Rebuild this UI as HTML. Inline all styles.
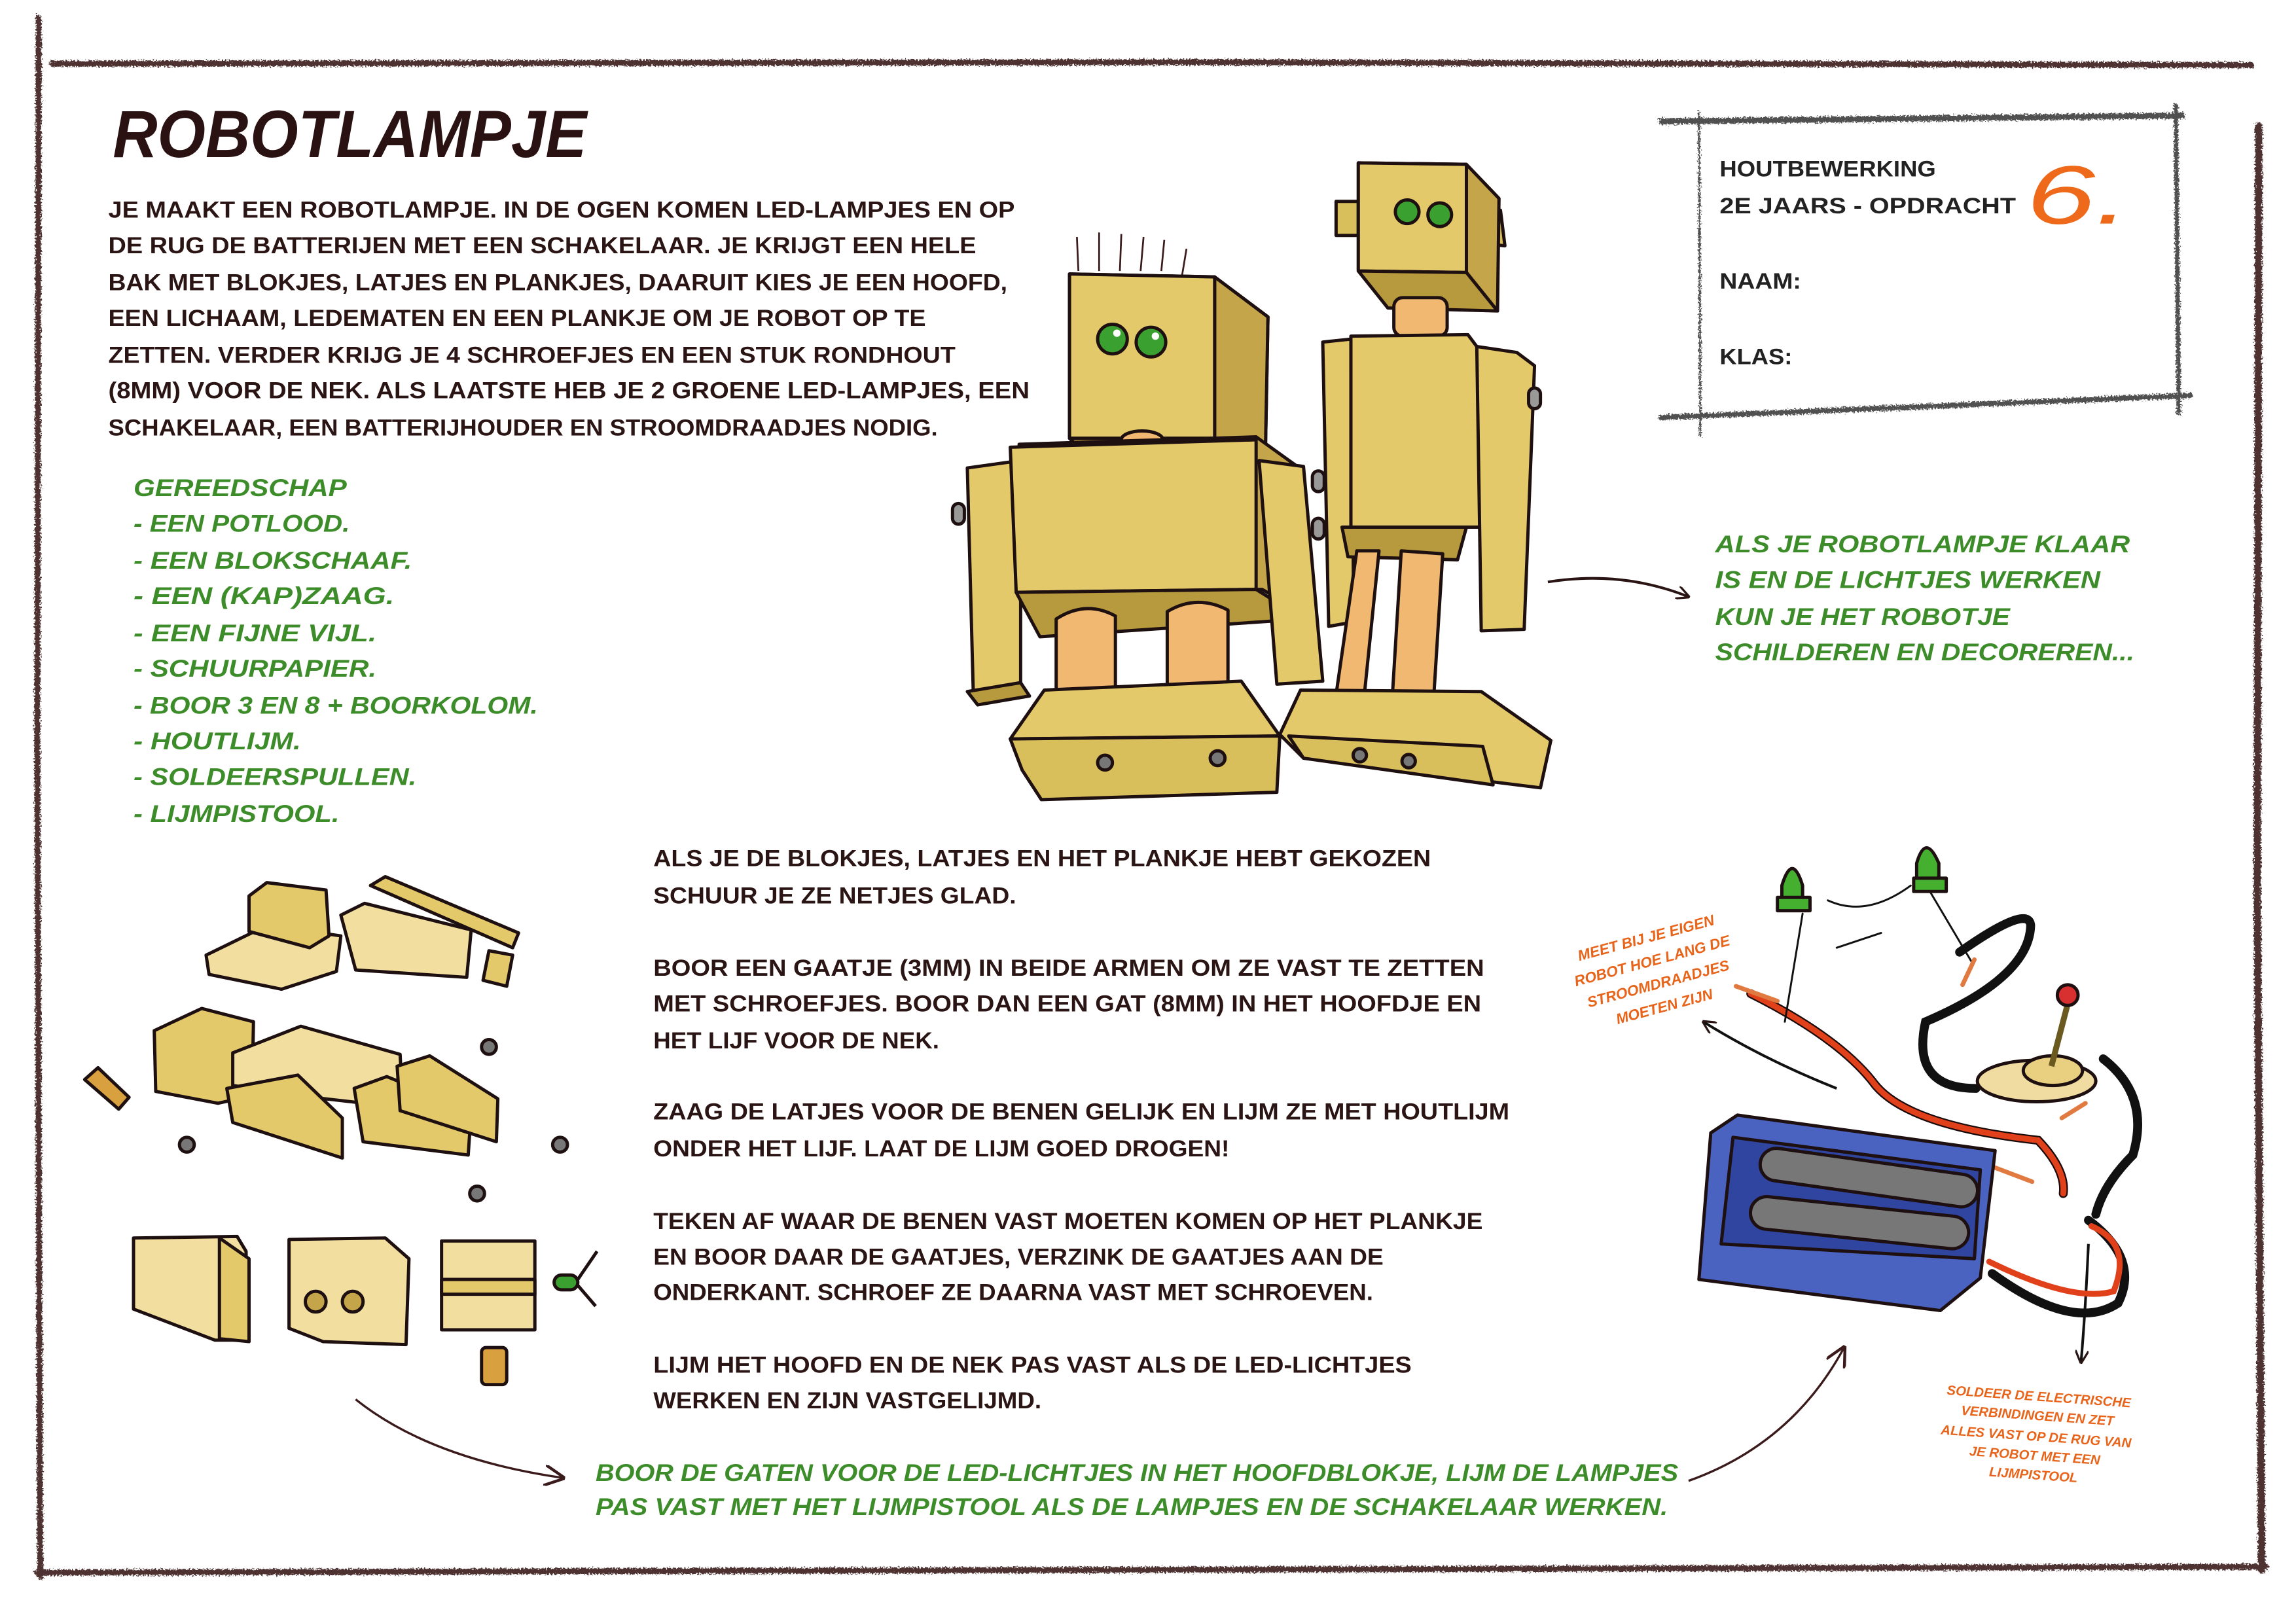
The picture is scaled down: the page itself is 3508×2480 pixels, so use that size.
<!DOCTYPE html>
<html><head><meta charset="utf-8"><style>
html,body{margin:0;padding:0;background:#fff;}
svg{display:block;}
text{font-family:"Liberation Sans",sans-serif;font-weight:bold;}
.b{fill:#2a1414;font-size:15.5px;}
.g{fill:#3d8c2a;font-size:16.5px;font-style:italic;}
.o{fill:#e8641a;font-style:italic;}
.k{fill:#222;font-size:15px;}
.ol{stroke:#1e1010;stroke-width:2.2;stroke-linejoin:round;}
</style></head><body>
<svg width="3508" height="2480" viewBox="0 0 1550 1096" xmlns="http://www.w3.org/2000/svg">
<defs>
<filter id="rough" x="-5%" y="-5%" width="110%" height="110%">
<feTurbulence type="fractalNoise" baseFrequency="0.9" numOctaves="2" seed="3"/>
<feDisplacementMap in="SourceGraphic" scale="4"/>
</filter>
<marker id="ah" viewBox="0 0 10 10" refX="9" refY="5" markerWidth="9" markerHeight="9" orient="auto" markerUnits="userSpaceOnUse"><path d="M0,0 L10,5 L0,10" fill="none" stroke="#2a1414" stroke-width="1.6"/></marker>
<marker id="ah2" viewBox="0 0 10 10" refX="9" refY="5" markerWidth="14" markerHeight="14" orient="auto" markerUnits="userSpaceOnUse"><path d="M0,0 L10,5 L0,10" fill="none" stroke="#3a1a1a" stroke-width="1.4"/></marker>
</defs>

<!-- frame -->
<g filter="url(#rough)" stroke="#3b1f1f" fill="none" stroke-linecap="round" opacity="0.9">
<path d="M35,43 L800,42 L1520,44" stroke-width="4"/>
<path d="M26,12 L25,500 L27,1065" stroke-width="4"/>
<path d="M1525,85 L1524,600 L1527,1060" stroke-width="5"/>
<path d="M25,1062 L800,1060 L1530,1058" stroke-width="4"/>
</g>
<!-- info box -->
<g filter="url(#rough)" stroke="#333" fill="none" opacity="0.85">
<path d="M1120,82 L1475,78" stroke-width="4"/>
<path d="M1147,75 L1148,295" stroke-width="1.5"/>
<path d="M1469,70 L1471,280" stroke-width="3"/>
<path d="M1120,282 L1480,267" stroke-width="3.5"/>
</g>
<text class="k" x="1161" y="119" textLength="146" lengthAdjust="spacingAndGlyphs">HOUTBEWERKING</text>
<text class="k" x="1161" y="144" textLength="200" lengthAdjust="spacingAndGlyphs">2E JAARS - OPDRACHT</text>
<text class="k" x="1161" y="195" textLength="55" lengthAdjust="spacingAndGlyphs">NAAM:</text>
<text class="k" x="1161" y="246" textLength="49" lengthAdjust="spacingAndGlyphs">KLAS:</text>
<text x="1368" y="151" style="font-size:56px;fill:#ee6a1a;font-style:italic;font-weight:normal" textLength="70" lengthAdjust="spacingAndGlyphs">6.</text>

<!-- title -->
<text x="76" y="106" style="font-size:45px;fill:#2a1212;font-style:italic;font-weight:bold" textLength="320" lengthAdjust="spacingAndGlyphs">ROBOTLAMPJE</text>

<!-- intro -->
<g class="b">
<text class="b" x="73" y="147" textLength="612" lengthAdjust="spacingAndGlyphs">JE MAAKT EEN ROBOTLAMPJE. IN DE OGEN KOMEN LED-LAMPJES EN OP</text>
<text class="b" x="73" y="171" textLength="586" lengthAdjust="spacingAndGlyphs">DE RUG DE BATTERIJEN MET EEN SCHAKELAAR. JE KRIJGT EEN HELE</text>
<text class="b" x="73" y="196" textLength="607" lengthAdjust="spacingAndGlyphs">BAK MET BLOKJES, LATJES EN PLANKJES, DAARUIT KIES JE EEN HOOFD,</text>
<text class="b" x="73" y="220" textLength="552" lengthAdjust="spacingAndGlyphs">EEN LICHAAM, LEDEMATEN EN EEN PLANKJE OM JE ROBOT OP TE</text>
<text class="b" x="73" y="245" textLength="572" lengthAdjust="spacingAndGlyphs">ZETTEN. VERDER KRIJG JE 4 SCHROEFJES EN EEN STUK RONDHOUT</text>
<text class="b" x="73" y="269" textLength="622" lengthAdjust="spacingAndGlyphs">(8MM) VOOR DE NEK. ALS LAATSTE HEB JE 2 GROENE LED-LAMPJES, EEN</text>
<text class="b" x="73" y="294" textLength="560" lengthAdjust="spacingAndGlyphs">SCHAKELAAR, EEN BATTERIJHOUDER EN STROOMDRAADJES NODIG.</text>
</g>

<!-- tools -->
<g>
<text class="g" x="90" y="335" textLength="144" lengthAdjust="spacingAndGlyphs">GEREEDSCHAP</text>
<text class="g" x="90" y="359" textLength="146" lengthAdjust="spacingAndGlyphs">- EEN POTLOOD.</text>
<text class="g" x="90" y="384" textLength="188" lengthAdjust="spacingAndGlyphs">- EEN BLOKSCHAAF.</text>
<text class="g" x="90" y="408" textLength="176" lengthAdjust="spacingAndGlyphs">- EEN (KAP)ZAAG.</text>
<text class="g" x="90" y="433" textLength="164" lengthAdjust="spacingAndGlyphs">- EEN FIJNE VIJL.</text>
<text class="g" x="90" y="457" textLength="164" lengthAdjust="spacingAndGlyphs">- SCHUURPAPIER.</text>
<text class="g" x="90" y="482" textLength="273" lengthAdjust="spacingAndGlyphs">- BOOR 3 EN 8 + BOORKOLOM.</text>
<text class="g" x="90" y="506" textLength="113" lengthAdjust="spacingAndGlyphs">- HOUTLIJM.</text>
<text class="g" x="90" y="530" textLength="191" lengthAdjust="spacingAndGlyphs">- SOLDEERSPULLEN.</text>
<text class="g" x="90" y="555" textLength="139" lengthAdjust="spacingAndGlyphs">- LIJMPISTOOL.</text>
</g>

<!-- right green -->
<text class="g" x="1158" y="373" textLength="280" lengthAdjust="spacingAndGlyphs">ALS JE ROBOTLAMPJE KLAAR</text>
<text class="g" x="1158" y="397" textLength="260" lengthAdjust="spacingAndGlyphs">IS EN DE LICHTJES WERKEN</text>
<text class="g" x="1158" y="422" textLength="199" lengthAdjust="spacingAndGlyphs">KUN JE HET ROBOTJE</text>
<text class="g" x="1158" y="446" textLength="283" lengthAdjust="spacingAndGlyphs">SCHILDEREN EN DECOREREN...</text>

<!-- middle instructions -->
<text class="b" x="441" y="585" textLength="525" lengthAdjust="spacingAndGlyphs">ALS JE DE BLOKJES, LATJES EN HET PLANKJE HEBT GEKOZEN</text>
<text class="b" x="441" y="610" textLength="245" lengthAdjust="spacingAndGlyphs">SCHUUR JE ZE NETJES GLAD.</text>
<text class="b" x="441" y="659" textLength="561" lengthAdjust="spacingAndGlyphs">BOOR EEN GAATJE (3MM) IN BEIDE ARMEN OM ZE VAST TE ZETTEN</text>
<text class="b" x="441" y="683" textLength="559" lengthAdjust="spacingAndGlyphs">MET  SCHROEFJES. BOOR DAN EEN GAT (8MM) IN HET HOOFDJE EN</text>
<text class="b" x="441" y="708" textLength="193" lengthAdjust="spacingAndGlyphs">HET LIJF VOOR DE NEK.</text>
<text class="b" x="441" y="756" textLength="578" lengthAdjust="spacingAndGlyphs">ZAAG DE LATJES VOOR DE BENEN GELIJK EN LIJM ZE MET HOUTLIJM</text>
<text class="b" x="441" y="781" textLength="389" lengthAdjust="spacingAndGlyphs">ONDER HET LIJF. LAAT DE LIJM GOED DROGEN!</text>
<text class="b" x="441" y="830" textLength="560" lengthAdjust="spacingAndGlyphs">TEKEN AF WAAR DE BENEN VAST MOETEN KOMEN OP HET PLANKJE</text>
<text class="b" x="441" y="854" textLength="493" lengthAdjust="spacingAndGlyphs">EN BOOR DAAR DE GAATJES, VERZINK DE GAATJES AAN DE</text>
<text class="b" x="441" y="878" textLength="486" lengthAdjust="spacingAndGlyphs">ONDERKANT. SCHROEF ZE DAARNA VAST MET SCHROEVEN.</text>
<text class="b" x="441" y="927" textLength="512" lengthAdjust="spacingAndGlyphs">LIJM HET HOOFD EN DE NEK PAS VAST ALS DE LED-LICHTJES</text>
<text class="b" x="441" y="951" textLength="262" lengthAdjust="spacingAndGlyphs">WERKEN EN ZIJN VASTGELIJMD.</text>

<text class="g" x="402" y="1000" textLength="731" lengthAdjust="spacingAndGlyphs">BOOR DE GATEN VOOR DE LED-LICHTJES IN HET HOOFDBLOKJE, LIJM DE LAMPJES</text>
<text class="g" x="402" y="1023" textLength="724" lengthAdjust="spacingAndGlyphs">PAS VAST MET HET LIJMPISTOOL ALS DE LAMPJES EN DE SCHAKELAAR WERKEN.</text>

<!-- orange notes -->
<g transform="rotate(-15 1117 655)" class="o" style="font-size:10px" text-anchor="middle">
<text class="o" x="1117" y="636" style="font-size:10px">MEET BIJ JE EIGEN</text>
<text class="o" x="1117" y="652" style="font-size:10px">ROBOT HOE LANG DE</text>
<text class="o" x="1117" y="668" style="font-size:10px">STROOMDRAADJES</text>
<text class="o" x="1117" y="684" style="font-size:10px">MOETEN ZIJN</text>
</g>
<g transform="rotate(4 1375 965)" text-anchor="middle">
<text class="o" x="1375" y="946" style="font-size:9px">SOLDEER DE ELECTRISCHE</text>
<text class="o" x="1375" y="959" style="font-size:9px">VERBINDINGEN EN ZET</text>
<text class="o" x="1375" y="973" style="font-size:9px">ALLES VAST OP DE RUG VAN</text>
<text class="o" x="1375" y="986" style="font-size:9px">JE ROBOT MET EEN</text>
<text class="o" x="1375" y="999" style="font-size:9px">LIJMPISTOOL</text>
</g>

<!-- arrows -->
<path d="M1045,393 Q1095,385 1140,403" fill="none" stroke="#2a1414" stroke-width="1.8" marker-end="url(#ah)"/>
<path d="M1240,735 Q1190,715 1150,690" fill="none" stroke="#111" stroke-width="1.8" marker-end="url(#ah)"/>
<path d="M1410,840 Q1408,885 1405,920" fill="none" stroke="#111" stroke-width="1.8" marker-end="url(#ah)"/>
<path d="M1140,1000 Q1210,975 1245,910" fill="none" stroke="#3a1a1a" stroke-width="1.5" marker-end="url(#ah2)"/>
<path d="M240,945 Q290,985 380,998" fill="none" stroke="#3a1a1a" stroke-width="1.5" marker-end="url(#ah2)"/>

<!-- ROBOT 1 -->
<g class="ol">
<g stroke="#3a1a1a" stroke-width="1.2"><path d="M728,183 L727,160 M742,183 L742,157 M756,183 L757,158 M770,183 L772,160 M784,183 L786,162 M798,186 L801,168"/></g>
<polygon points="722,185 820,187 856,214 854,320 820,295 722,295" fill="#d9bf5c"/>
<polygon points="820,187 856,214 854,320 820,296" fill="#c4a54a"/>
<polygon points="722,185 820,187 820,296 722,296" fill="#e3c96a"/>
<polygon points="722,296 820,296 850,320 745,318" fill="#b89a3e"/>
<circle cx="751" cy="229" r="10" fill="#3aa030"/><circle cx="777" cy="231" r="10" fill="#3aa030"/>
<circle cx="754" cy="225" r="2.5" fill="#fff" stroke="none"/><circle cx="780" cy="227" r="2.5" fill="#fff" stroke="none"/>
<ellipse cx="771" cy="297" rx="14" ry="6" fill="#f0b870"/>
<rect x="643" y="340" width="8" height="14" rx="4" fill="#999"/>
<polygon points="653,316 689,311 689,461 657,467" fill="#e3c96a"/>
<polygon points="653,467 689,461 695,470 660,476" fill="#b89a3e"/>
<polygon points="688,300 848,295 880,318 882,415 852,398 688,398" fill="#c4a54a"/>
<polygon points="682,302 848,297 848,398 686,400" fill="#e3c96a"/>
<polygon points="686,400 848,398 880,418 702,430" fill="#b89a3e"/>
<path d="M713,470 L713,418 Q733,405 753,416 L753,470Z" fill="#f0b870"/>
<path d="M788,466 L788,413 Q808,401 829,412 L829,466Z" fill="#f0b870"/>
<polygon points="850,311 880,315 893,460 862,462" fill="#e3c96a"/>
<rect x="886" y="350" width="8" height="14" rx="4" fill="#999"/>
<polygon points="705,466 838,460 864,497 682,499" fill="#e3c96a"/>
<polygon points="682,499 864,497 862,535 703,540 690,520" fill="#d9bf5c"/>
<circle cx="746" cy="515" r="5" fill="#777"/><circle cx="822" cy="512" r="5" fill="#777"/>
</g>

<!-- ROBOT 2 -->
<g class="ol">
<polygon points="902,136 917,136 917,159 902,159" fill="#d9bf5c"/>
<polygon points="994,139 1013,142 1016,166 996,164" fill="#d9bf5c"/>
<polygon points="917,110 990,111 1012,134 1011,210 990,184 917,182" fill="#c4a54a"/>
<polygon points="917,110 990,111 990,184 917,183" fill="#e3c96a"/>
<polygon points="917,183 990,184 1011,210 937,208" fill="#b89a3e"/>
<circle cx="950" cy="143" r="8" fill="#3aa030"/><circle cx="972" cy="145" r="8" fill="#3aa030"/>
<rect x="941" y="201" width="36" height="26" rx="6" fill="#f0b870"/>
<rect x="886" y="318" width="8" height="14" rx="4" fill="#999"/>
<polygon points="893,231 912,229 914,420 897,423" fill="#e3c96a"/>
<polygon points="912,227 991,226 1000,238 1000,356 990,356 912,356" fill="#e3c96a"/>
<polygon points="906,356 990,356 984,378 910,376" fill="#b89a3e"/>
<polygon points="902,469 916,372 931,372 921,470" fill="#f0b870"/>
<polygon points="940,470 946,372 974,374 968,470" fill="#f0b870"/>
<polygon points="997,234 1024,238 1036,247 1029,425 1000,426" fill="#e3c96a"/>
<rect x="1032" y="262" width="8" height="14" rx="4" fill="#999"/>
<polygon points="878,466 1000,467 1047,500 1040,532 880,512 864,496" fill="#e3c96a"/>
<polygon points="870,497 1001,504 1008,530 880,512" fill="#d9bf5c"/>
<circle cx="918" cy="510" r="4.5" fill="#777"/><circle cx="951" cy="514" r="4.5" fill="#777"/>
</g>

<!-- LEFT PARTS top -->
<g class="ol" stroke-width="1.6">
<polygon points="139,645 180,625 230,632 227,656 190,668 141,658" fill="#f2dfa0"/>
<polygon points="168,605 180,596 220,601 222,632 209,640 168,629" fill="#e3c96a"/>
<polygon points="230,618 246,610 318,628 315,660 240,655" fill="#f2dfa0"/>
<polygon points="250,598 260,592 350,630 346,640" fill="#e3c96a"/>
<polygon points="330,642 346,645 342,666 326,662" fill="#e3c96a"/>
<!-- middle -->
<polygon points="104,696 136,681 171,690 170,740 147,745 105,737" fill="#e3c96a"/>
<polygon points="157,711 203,693 270,712 272,748 202,740 157,733" fill="#f2dfa0"/>
<polygon points="153,735 201,726 231,755 231,782 157,758" fill="#e3c96a"/>
<polygon points="239,735 261,727 318,750 316,780 245,771" fill="#e3c96a"/>
<polygon points="268,720 290,713 336,742 335,771 270,750" fill="#e3c96a"/>
<polygon points="57,729 66,721 87,741 80,749" fill="#d9a040"/>
<g fill="#777"><circle cx="126" cy="773" r="5"/><circle cx="330" cy="707" r="5"/><circle cx="378" cy="773" r="5"/><circle cx="322" cy="806" r="5"/></g>
<!-- bottom -->
<polygon points="90,836 160,835 166,845 167,905 145,905 90,884" fill="#f2dfa0"/>
<polygon points="148,836 168,850 168,906 148,904" fill="#e3c96a"/>
<polygon points="195,837 260,836 276,850 274,908 218,906 195,897" fill="#f2dfa0"/>
<circle cx="213" cy="879" r="7" fill="#c4a54a"/><circle cx="238" cy="879" r="7" fill="#c4a54a"/>
<rect x="298" y="838" width="63" height="60" fill="#f2dfa0"/>
<rect x="298" y="864" width="63" height="10" fill="#e3c96a"/>
<rect x="325" y="910" width="17" height="25" rx="3" fill="#d9a040"/>
<rect x="374" y="861" width="16" height="10" rx="5" fill="#3aa030"/>
<path d="M390,864 L403,845 M390,868 L402,882" fill="none"/>
</g>

<!-- BATTERY & CIRCUIT -->
<g stroke-linecap="round" fill="none">
<path d="M1182,671 Q1240,700 1264,730 Q1285,760 1376,770 Q1395,790 1393,806" stroke="#1a0a0a" stroke-width="6"/>
<path d="M1182,671 Q1240,700 1264,730 Q1285,760 1376,770 Q1395,790 1393,806" stroke="#e0401a" stroke-width="4"/>
<path d="M1323,643 Q1370,610 1371,625 Q1370,660 1300,690 Q1290,735 1334,735" stroke="#111" stroke-width="6"/>
<path d="M1420,715 Q1452,740 1440,780 Q1420,800 1415,820" stroke="#111" stroke-width="6"/>
<path d="M1410,824 Q1445,850 1430,880 Q1400,900 1345,860" stroke="#111" stroke-width="6"/>
<path d="M1343,852 Q1400,880 1427,872 Q1440,840 1412,828" stroke="#e0401a" stroke-width="4"/>
<path d="M1217,617 L1205,690 M1234,608 Q1260,620 1290,598 M1300,597 L1332,651 M1270,630 L1240,640" stroke="#111" stroke-width="1.3"/>
<path d="M1172,666 L1200,676 M1325,665 L1333,648 M1343,787 L1372,798 M1392,755 L1408,745" stroke="#e07a40" stroke-width="3"/>
</g>
<g class="ol" stroke-width="1.6">
<path d="M1203,614 L1203,598 Q1210,575 1217,598 L1217,614Z" fill="#45b030"/>
<rect x="1200" y="606" width="22" height="9" fill="#45b030"/>
<path d="M1294,598 L1294,583 Q1300,562 1309,583 L1309,598Z" fill="#45b030"/>
<rect x="1292" y="593" width="22" height="9" fill="#45b030"/>
<ellipse cx="1375" cy="730" rx="40" ry="14" fill="#f0dca0"/>
<ellipse cx="1386" cy="723" rx="20" ry="10" fill="#e9cf80"/>
<path d="M1385,720 L1396,678" stroke="#6b5a20" stroke-width="4"/>
<circle cx="1396" cy="672" r="7" fill="#d83030"/>
<polygon points="1173,753 1347,777 1337,863 1310,885 1147,864 1155,765" fill="#4a62c0"/>
<polygon points="1170,768 1337,790 1333,850 1162,840" fill="#2f45a0"/>
<rect x="1190" y="774" width="148" height="22" rx="11" fill="#777" transform="rotate(8 1190 774)"/>
<rect x="1183" y="807" width="148" height="22" rx="11" fill="#777" transform="rotate(6 1183 807)"/>
</g>
</svg>
</body></html>
